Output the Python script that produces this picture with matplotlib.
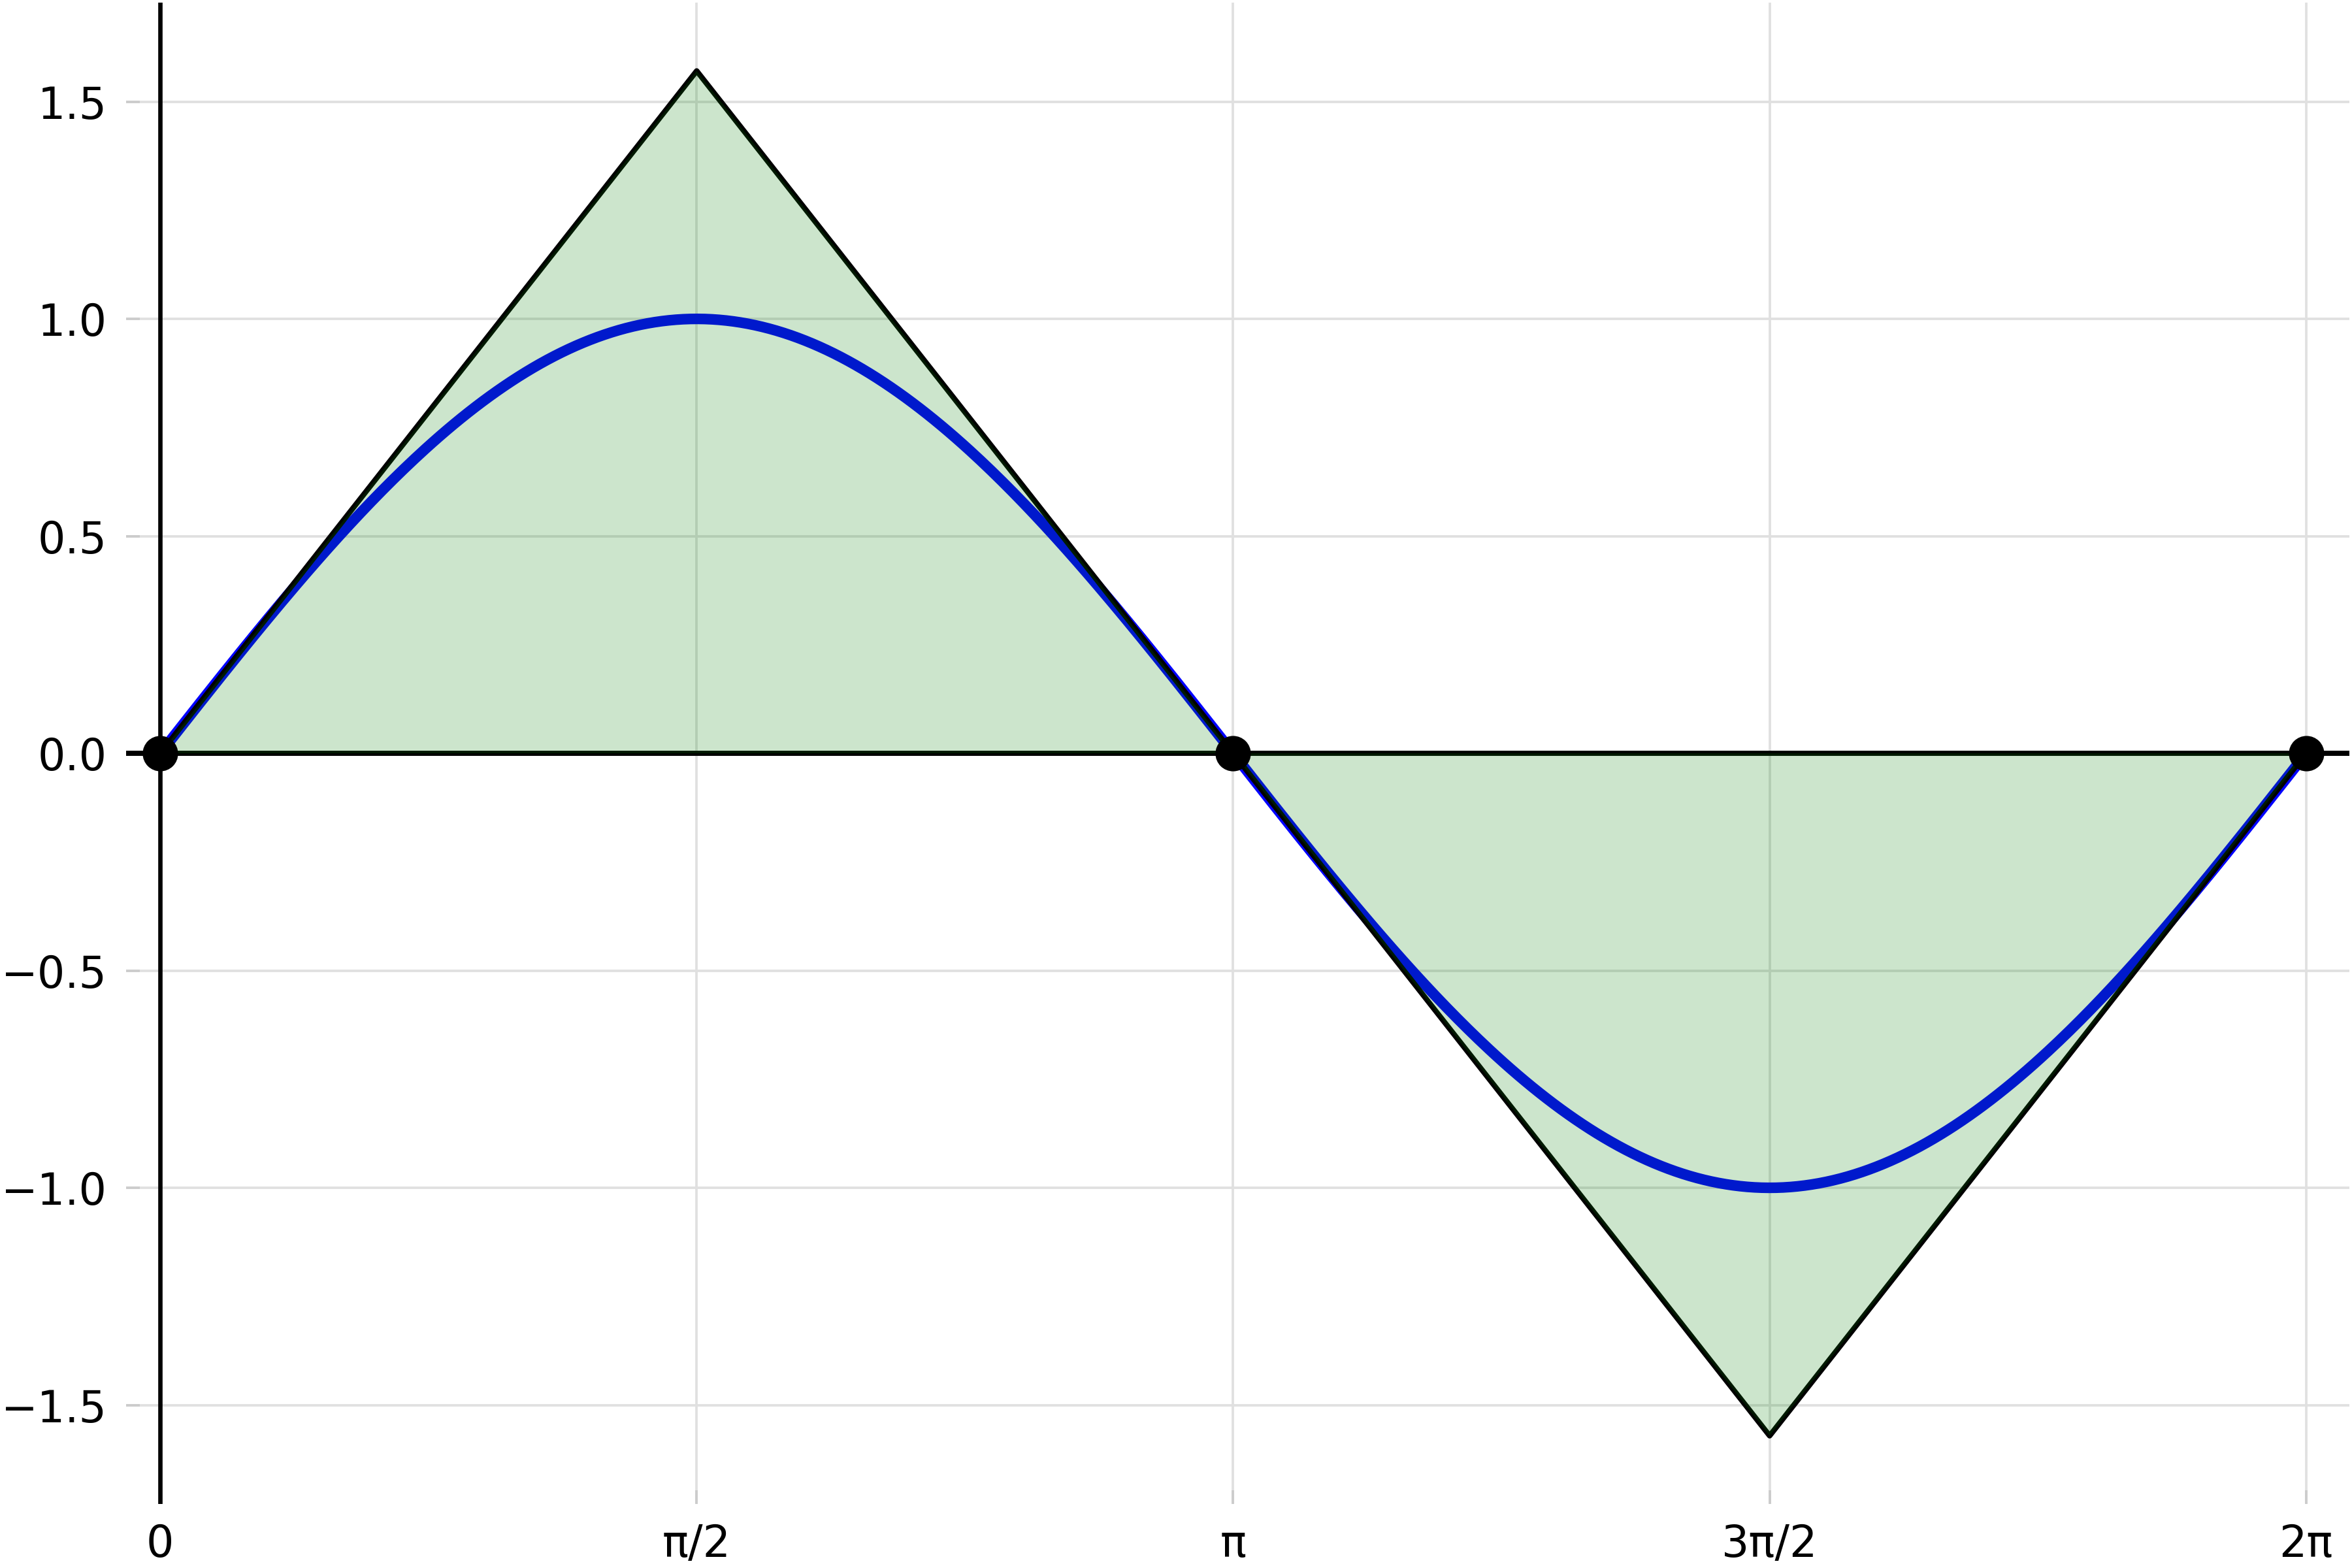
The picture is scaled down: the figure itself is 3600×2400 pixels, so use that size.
import numpy as np
import matplotlib
matplotlib.use('Agg')
import matplotlib.pyplot as plt

# data
x = np.linspace(0, 2 * np.pi, 600)
y = np.sin(x)

# tangent triangles at the zeros
tri_x = [0, np.pi / 2, np.pi, 3 * np.pi / 2, 2 * np.pi]
tri_y = [0, np.pi / 2, 0, -np.pi / 2, 0]

zeros_x = [0, np.pi, 2 * np.pi]
zeros_y = [0, 0, 0]

xticks = [0, np.pi / 2, np.pi, 3 * np.pi / 2, 2 * np.pi]
xlabels = ['0', 'π/2', 'π', '3π/2', '2π']
yticks = [-1.5, -1.0, -0.5, 0.0, 0.5, 1.0, 1.5]

fig = plt.figure(figsize=(12, 8), dpi=300)
ax = fig.add_axes([0.0536, 0.0408, 0.9453, 0.9575])

ax.plot(x, y, color='blue', linewidth=3.9, zorder=2)
ax.plot(tri_x, tri_y, color='k', linewidth=2.0, zorder=2.1)
# fill drawn over the lines, tints them a bit green
ax.fill(tri_x, tri_y, color='green', alpha=0.2, linewidth=0, zorder=3)

ax.axhline(0, color='k', linewidth=1.9, zorder=2.2)
ax.axvline(0, color='k', linewidth=1.6, zorder=2.2)

ax.plot(zeros_x, zeros_y, 'o', color='k', markersize=12, zorder=4)

ax.set_xlim(-0.1, 6.41)
ax.set_ylim(-np.pi / 2 * 1.1, np.pi / 2 * 1.1)

ax.set_xticks(xticks)
ax.set_xticklabels(xlabels)
ax.set_yticks(yticks)

for s in ax.spines.values():
    s.set_visible(False)

ax.set_axisbelow(True)
ax.grid(True, color='0.88', linewidth=0.9)
ax.tick_params(direction='in', length=5, width=0.9, color='0.8',
               labelsize=16, pad=7)

fig.savefig('out.png', dpi=300)
